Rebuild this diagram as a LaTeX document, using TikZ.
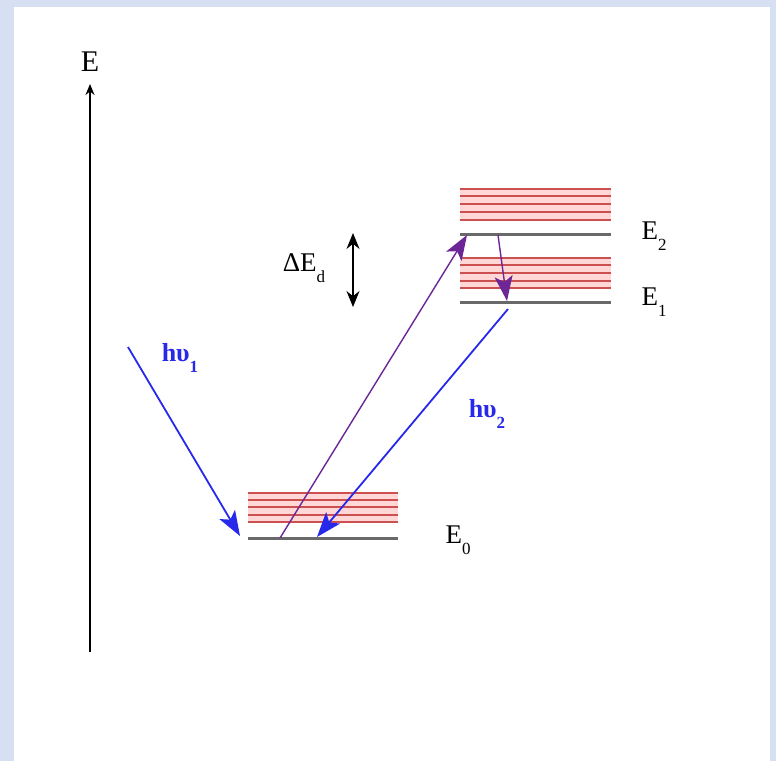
\documentclass[tikz,border=0pt]{standalone}
\usepackage{fontspec}
\setmainfont{Liberation Serif}
\usetikzlibrary{arrows.meta, positioning}

\definecolor{frameblue}{RGB}{214,224,242}
\definecolor{levelgray}{RGB}{105,105,105}
\definecolor{bandred}{RGB}{205,80,80}
\definecolor{bandpink}{RGB}{255,215,215}
\definecolor{photonblue}{RGB}{40,40,235}
\definecolor{relaxpurple}{RGB}{108,38,150}

% lowered small index, as in the original figure
\newcommand{\lowidx}[1]{\raisebox{-0.4em}{\fontsize{17}{17}\selectfont #1}}

\begin{document}
\begin{tikzpicture}[x=1pt, y=-1pt, >=Stealth,
  level/.style={draw=levelgray, line width=3pt},
  band/.style={draw=bandred, line width=1.6pt},
  photon/.style={draw=photonblue, line width=1.8pt, -{Stealth[length=25pt,width=18pt,inset=6pt]}},
  transfer/.style={draw=relaxpurple, line width=1.4pt, -{Stealth[length=25pt,width=18pt,inset=6pt]}},
  lbl/.style={font=\fontsize{27}{30}\selectfont, inner sep=0pt},
  plbl/.style={font=\fontsize{26}{30}\selectfont\bfseries, text=photonblue, inner sep=0pt}]

  % frame
  \fill[frameblue] (0,0) rectangle (776,761);
  \fill[white] (14,7) rectangle (770,761);
  \useasboundingbox (0,0) rectangle (776,761);

  % energy axis
  \coordinate (axbot) at (90,652);
  \coordinate (axtop) at (90,84);
  \draw[line width=1.8pt, -{Stealth[length=11pt,width=9pt]}] (axbot) -- (axtop);
  \node[lbl, font=\fontsize{30}{32}\selectfont] (elabel) at (90,62) {E};

  % vibrational bands
  \fill[bandpink] (248,492) rectangle (398,523);
  \fill[bandpink] (460,188) rectangle (611,221);
  \fill[bandpink] (460,257) rectangle (611,289);
  \foreach \y in {493,500,507,515,522}
    \draw[band] (248,\y) -- (398,\y);
  \foreach \y in {189,196,204,212,220,258,265,273,281,288}
    \draw[band] (460,\y) -- (611,\y);

  % levels
  \coordinate (e0l) at (248,538);
  \coordinate (e0r) at (398,538);
  \coordinate (e1l) at (460,302);
  \coordinate (e1r) at (611,302);
  \coordinate (e2l) at (460,234);
  \coordinate (e2r) at (611,234);
  \draw[level] (e0l) -- (e0r);
  \draw[level] (e1l) -- (e1r);
  \draw[level] (e2l) -- (e2r);

  \node[lbl] (e0lab) at (458,540) {E\lowidx{0}};
  \node[lbl] (e1lab) at (654,302) {E\lowidx{1}};
  \node[lbl] (e2lab) at (654,236) {E\lowidx{2}};

  % splitting
  \node[lbl] (dlab) at (304,268) {ΔE\lowidx{d}};
  \coordinate (dtop) at (353,233);
  \coordinate (dbot) at (353,307);
  \draw[line width=1.4pt, {Stealth[length=16pt,width=13pt]}-{Stealth[length=16pt,width=13pt]}] (dtop) -- (dbot);

  % absorption / emission
  \coordinate (in1) at (128,347);
  \coordinate (in1end) at (240,536);
  \draw[photon] (in1) -- (in1end);
  \node[plbl] (hv1) at (180,358) {hυ\lowidx{1}};

  \coordinate (up0) at (280,538);
  \coordinate (up2) at (467,235);
  \draw[transfer] (up0) -- (up2);

  \coordinate (rel2) at (498,235);
  \coordinate (rel1) at (507,301);
  \draw[transfer] (rel2) -- (rel1);

  \coordinate (out1) at (508,309);
  \coordinate (out0) at (317,537);
  \draw[photon] (out1) -- (out0);
  \node[plbl] (hv2) at (487,414) {hυ\lowidx{2}};
\end{tikzpicture}
\end{document}
